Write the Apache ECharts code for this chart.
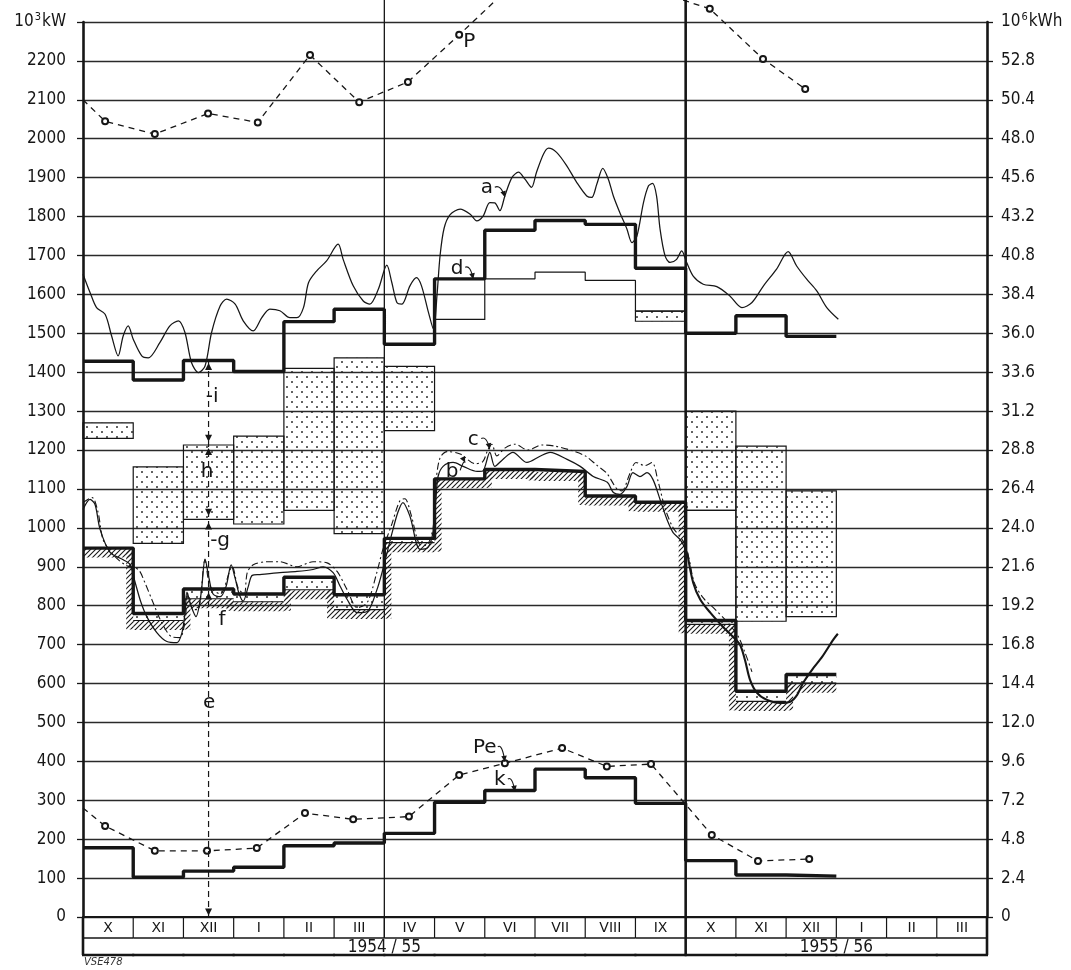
<!DOCTYPE html>
<html><head><meta charset="utf-8">
<script src="https://cdn.jsdelivr.net/npm/echarts@6/dist/echarts.min.js"></script>
<style>html,body{margin:0;padding:0;background:#fff}#c{width:1071px;height:970px}</style>
</head><body><div id="c"></div>
<script>
// ---------- DATA ----------
const monthLabels = ['X','XI','XII','I','II','III','IV','V','VI','VII','VIII','IX','X','XI','XII','I','II','III'];
const seasonLabels = ['1954 / 55','1955 / 56'];
const seasonSpans = [[0,12],[12,18]];
const dividerMonths = [6,12];
// thick step lines (monthly values, 10^3 kW)
const loadD = [1428,1380,1430,1402,1530,1562,1472,1640,1765,1790,1780,1667,1500,1545,1492];
const lineE = [948,780,843,830,873,828,973,1126,1150,1145,1082,1066,762,580,623];
const lineELow = [948,762,818,810,841,790,962,1126,1150,1145,1082,1066,752,554,601];
const lineK = [178,102,118,128,183,190,215,295,325,380,358,292,145,108,105];
const summerStart = 8;
const summerTop = [1640,1657,1636,1557];
// bands: [month, low, high, dotted]
const bandsH = [[0,1230,1270,1],[1,960,1157,1],[2,1022,1213,1],[3,1010,1236,1],[4,1045,1410,1],[5,985,1437,1],[6,1250,1415,1],[7,1536,1640,0],[11,1531,1557,1],[12,1045,1300,1],[12,762,1045,0],[13,760,1210,1],[14,772,1095,1]];
// P and Pe (month position, value)
const pX = [0,0.44,1.43,2.49,3.48,4.52,5.50,6.47,7.49,8.5,9.5,10.5,11.5,12.48,13.54,14.38];
const pVal = [2100,2045,2012,2065,2042,2215,2094,2146,2267,2390,2430,2420,2375,2334,2205,2128];
const peX = [0,0.44,1.43,2.47,3.46,4.42,5.38,6.49,7.49,8.40,9.54,10.43,11.31,12.52,13.44,14.46];
const peVal = [280,234,170,170,177,267,251,258,365,395,434,387,393,211,144,149];
// curve a
const aCurve = [[0.00,1652],[0.14,1605],[0.27,1566],[0.44,1549],[0.57,1493],[0.70,1442],[0.80,1493],[0.90,1519],[1.00,1485],[1.17,1442],[1.30,1437],[1.53,1476],[1.73,1519],[1.90,1532],[2.03,1502],[2.16,1425],[2.30,1399],[2.43,1416],[2.56,1502],[2.73,1570],[2.86,1588],[3.03,1575],[3.19,1532],[3.39,1506],[3.56,1540],[3.72,1562],[3.92,1558],[4.12,1540],[4.26,1540],[4.39,1566],[4.49,1630],[4.65,1660],[4.85,1686],[5.08,1729],[5.18,1690],[5.38,1622],[5.58,1583],[5.71,1575],[5.88,1613],[6.05,1675],[6.15,1630],[6.25,1579],[6.35,1575],[6.51,1622],[6.64,1643],[6.74,1622],[6.88,1553],[6.98,1510],[7.05,1600],[7.11,1700],[7.19,1770],[7.31,1805],[7.51,1819],[7.71,1806],[7.84,1789],[7.97,1802],[8.10,1836],[8.20,1835],[8.30,1815],[8.40,1853],[8.54,1900],[8.67,1914],[8.80,1896],[8.93,1875],[9.03,1914],[9.17,1961],[9.27,1976],[9.43,1965],[9.63,1931],[9.83,1888],[10.03,1853],[10.13,1849],[10.23,1883],[10.35,1924],[10.46,1896],[10.56,1853],[10.69,1810],[10.83,1768],[10.93,1733],[11.03,1750],[11.16,1836],[11.26,1879],[11.34,1885],[11.42,1853],[11.49,1768],[11.59,1699],[11.69,1682],[11.82,1690],[11.92,1712],[12.02,1682],[12.15,1647],[12.35,1626],[12.62,1620],[12.88,1596],[13.12,1566],[13.32,1579],[13.55,1622],[13.81,1665],[14.04,1710],[14.21,1673],[14.41,1639],[14.61,1609],[14.81,1566],[15.04,1536]];
// curve b (solid) first season
const bCurve1 = [[0,1047],[0.14,1073],[0.24,1060],[0.34,996],[0.54,937],[0.80,918],[0.94,905],[1.04,859],[1.15,810],[1.27,772],[1.47,731],[1.67,708],[1.87,705],[1.97,730],[2.03,780],[2.07,835],[2.15,800],[2.25,772],[2.35,830],[2.43,920],[2.51,870],[2.59,830],[2.73,823],[2.85,850],[2.95,905],[3.03,870],[3.11,830],[3.19,812],[3.29,849],[3.37,878],[3.52,880],[3.92,885],[4.26,888],[4.58,893],[4.78,900],[4.98,885],[5.12,850],[5.26,816],[5.46,782],[5.66,785],[5.85,840],[5.97,893],[6.15,985],[6.27,1040],[6.37,1065],[6.51,1030],[6.71,945],[6.87,950],[6.97,990],[7.03,1080],[7.07,1132],[7.17,1158],[7.37,1168],[7.57,1158],[7.85,1145],[7.96,1146],[8.10,1194],[8.20,1158],[8.36,1176],[8.56,1194],[8.84,1168],[9.10,1184],[9.30,1194],[9.64,1176],[9.90,1158],[10.16,1132],[10.44,1117],[10.56,1091],[10.69,1086],[10.83,1106],[10.95,1142],[11.09,1132],[11.23,1142],[11.35,1124],[11.49,1073],[11.63,1021],[11.75,988],[11.89,970],[12.03,937]];
// curve b second season (heavier)
const bCurve2 = [[12.03,937],[12.15,859],[12.29,816],[12.49,782],[12.74,746],[12.94,720],[13.08,700],[13.18,661],[13.28,610],[13.42,576],[13.62,558],[13.88,550],[14.08,553],[14.22,571],[14.34,602],[14.52,636],[14.72,669],[14.94,713],[15.03,728]];
// curve c (dash-dot)
const cCurve = [[0,1065],[0.18,1078],[0.30,1040],[0.40,970],[0.60,931],[0.84,905],[1.10,893],[1.23,860],[1.37,816],[1.57,756],[1.77,720],[1.93,718],[2.03,759],[2.09,830],[2.19,790],[2.29,790],[2.43,918],[2.53,850],[2.73,830],[2.97,900],[3.09,845],[3.21,830],[3.27,885],[3.39,905],[3.66,913],[3.92,913],[4.26,900],[4.58,913],[4.86,910],[5.06,888],[5.26,841],[5.46,795],[5.66,808],[5.85,885],[5.97,944],[6.15,1010],[6.31,1070],[6.41,1075],[6.53,1035],[6.69,960],[6.83,955],[6.97,1000],[7.03,1120],[7.11,1180],[7.25,1196],[7.51,1190],[7.81,1165],[7.96,1170],[8.06,1200],[8.14,1215],[8.24,1185],[8.40,1205],[8.60,1215],[8.86,1200],[9.14,1213],[9.40,1210],[9.70,1200],[10.00,1185],[10.24,1160],[10.43,1140],[10.63,1100],[10.73,1095],[10.89,1140],[11.01,1168],[11.19,1160],[11.33,1168],[11.45,1120],[11.59,1050],[11.75,1000],[11.93,970],[12.05,930],[12.17,860],[12.35,820],[12.59,790],[12.85,755],[13.05,720],[13.18,680],[13.32,630]];
// annotations
const noteText = ['P','a','d','c','b','Pe','k','-i','h','-g','f','e'];
const noteAt = [[7.69,2249],[8.04,1873],[7.45,1667],[7.77,1227],[7.35,1145],[8.0,435],[8.3,352],[2.57,1338],[2.47,1145],[2.73,967],[2.77,764],[2.51,551]];
const noteTarget = [null,[8.40,1850],[7.77,1639],[8.10,1202],[7.61,1168],[8.40,399],[8.60,322],null,null,null,null,null];
const markerX = 2.5, markerTop = 1432;
const markerArrows = [[1424,1],[1221,-1],[1205,1],[1031,-1],[1014,1],[834,1],[4,-1]];

// ---------- STYLE HELPERS ----------
const ink = '#161616';
const fontNum = '"DejaVu Sans Condensed","DejaVu Sans",sans-serif';
function makePattern(w, h, draw){ const c=document.createElement('canvas'); c.width=w; c.height=h; draw(c.getContext('2d')); return c; }
const dotCanvas = makePattern(10,10,g=>{ g.fillStyle='#222'; [[2,2],[7,7]].forEach(p=>{g.beginPath(); g.arc(p[0],p[1],0.95,0,7); g.fill();}); });
const hatchCanvas = makePattern(5,5,g=>{ g.strokeStyle='#1a1a1a'; g.lineWidth=1.1; g.beginPath(); g.moveTo(-1,6); g.lineTo(6,-1); g.moveTo(-1,1); g.lineTo(1,-1); g.moveTo(4,6); g.lineTo(6,4); g.stroke(); });
const dotFill = {image: dotCanvas, repeat: 'repeat'};
const hatchFill = {image: hatchCanvas, repeat: 'repeat'};
function steps(vals, start){ const out=[]; vals.forEach((v,i)=>{ out.push([start+i,v]); out.push([start+i+1,v]); }); return out; }
const rowH = 21, yearH = 17, hatchH = 9, hatchW = 7;

const lineBase = {type:'line', symbol:'none', showSymbol:false, silent:true, animation:false};
const curveBase = {...lineBase, smooth:0.3};

const option = {
  animation:false,
  backgroundColor:'#fff',
  grid:{left:83, right:84, top:22, bottom:53, containLabel:false, outerBoundsMode:'none'},
  xAxis:{type:'value', min:0, max:18, interval:1,
    axisLine:{show:true, onZero:false, lineStyle:{color:ink, width:2.2}},
    axisTick:{show:false}, axisLabel:{show:false}, splitLine:{show:false}},
  yAxis:[
    {type:'value', min:0, max:2300, interval:100, position:'left',
     axisLine:{show:true, lineStyle:{color:ink, width:2.6}},
     axisTick:{show:true, length:6, lineStyle:{color:ink, width:1.3}},
     splitLine:{show:true, lineStyle:{color:'#2a2a2a', width:1.3}},
     axisLabel:{margin:17, color:ink, fontFamily:fontNum, fontSize:17,
       formatter:v=> v>=2300 ? '{a|10}{s|3}{a|kW}' : String(v),
       rich:{a:{fontFamily:fontNum, fontSize:17, color:ink}, s:{fontFamily:fontNum, fontSize:11, color:ink, padding:[0,1,10,1]}}}},
    {type:'value', min:0, max:55.2, interval:2.4, position:'right',
     axisLine:{show:true, lineStyle:{color:ink, width:2.6}},
     axisTick:{show:true, length:6, lineStyle:{color:ink, width:1.3}},
     splitLine:{show:false},
     axisLabel:{margin:14, color:ink, fontFamily:fontNum, fontSize:17,
       formatter:v=> v>55 ? '{a|10}{s|6}{a|kWh}' : (v===0 ? '0' : v.toFixed(1)),
       rich:{a:{fontFamily:fontNum, fontSize:17, color:ink}, s:{fontFamily:fontNum, fontSize:11, color:ink, padding:[0,1,10,1]}}}}
  ],
  graphic:[{type:'text', left:84, top:957, style:{text:'VSE478', font:'italic 10px "DejaVu Sans"', fill:'#333'}}],
  series:[
    // upper dotted bands / outline boxes
    {type:'custom', silent:true, z:2, data:bandsH.map(b=>[b[0],b[1],b[2]]), encode:{x:0,y:[1,2]},
     renderItem:(params, api)=>{
       const b = bandsH[params.dataIndex];
       const p1 = api.coord([b[0], b[2]]), p2 = api.coord([b[0]+1, b[1]]);
       return {type:'rect', shape:{x:p1[0], y:p1[1], width:p2[0]-p1[0], height:p2[1]-p1[1]},
               style:{fill: b[3] ? dotFill : 'none', stroke:ink, lineWidth:1.2}};
     }},
    // dotted band right under line e
    {type:'custom', silent:true, z:2, data:lineE.map((v,i)=>[i,lineELow[i],v]), encode:{x:0,y:[1,2]},
     renderItem:(params, api)=>{
       const i = params.dataIndex;
       if (lineELow[i] >= lineE[i]) return {type:'group', children:[]};
       const p1 = api.coord([i, lineE[i]]), p2 = api.coord([i+1, lineELow[i]]);
       return {type:'group', children:[
         {type:'rect', shape:{x:p1[0], y:p1[1], width:p2[0]-p1[0], height:p2[1]-p1[1]}, style:{fill:dotFill}},
         {type:'line', shape:{x1:p1[0], y1:p2[1], x2:p2[0], y2:p2[1]}, style:{stroke:ink, lineWidth:1.1}}
       ]};
     }},
    // hatching under line e
    {type:'custom', silent:true, z:2, data:lineELow.map((v,i)=>[i,v]), encode:{x:0,y:1},
     renderItem:(params, api)=>{
       const i = params.dataIndex, lo = lineELow[i];
       const a = api.coord([i, lo]), b = api.coord([i+1, lo]);
       const ch = [{type:'rect', shape:{x:a[0], y:a[1]+0.5, width:b[0]-a[0], height:hatchH}, style:{fill:hatchFill}}];
       if (i+1 < lineELow.length && lineELow[i+1] !== lo){
         const nx = lineELow[i+1];
         const yHi = api.coord([i, Math.max(lo,nx)])[1], yLo = api.coord([i, Math.min(lo,nx)])[1] + hatchH;
         const x = lo > nx ? b[0]-hatchW : b[0];
         ch.push({type:'rect', shape:{x:x, y:yHi, width:hatchW, height:yLo-yHi}, style:{fill:hatchFill}});
       }
       return {type:'group', children:ch};
     }},
    // thin summer step line
    {...lineBase, name:'summer', z:3, data:steps(summerTop, summerStart), lineStyle:{color:ink, width:1.2}},
    // curves
    {...curveBase, name:'a', z:4, data:aCurve, lineStyle:{color:ink, width:1.25}},
    {...curveBase, name:'c', z:4, data:cCurve, lineStyle:{color:ink, width:1.1, type:[7,3,2,3]}},
    {...curveBase, name:'b1', z:4, data:bCurve1, lineStyle:{color:ink, width:1.25}},
    {...curveBase, name:'b2', z:4, data:bCurve2, lineStyle:{color:ink, width:2.1}},
    // thick step lines
    {...lineBase, name:'d', z:5, data:steps(loadD,0), lineStyle:{color:ink, width:3.4}},
    {...lineBase, name:'e', z:5, data:steps(lineE,0), lineStyle:{color:ink, width:3.4}},
    {...lineBase, name:'k', z:5, data:steps(lineK,0), lineStyle:{color:ink, width:3.4}},
    // P and Pe
    {type:'line', name:'P', z:6, silent:true, clip:false, symbol:'emptyCircle', showSymbol:true, symbolSize:6,
     data:pX.map((x,i)=>({value:[x,pVal[i]], symbolSize: i===0 ? 0 : 6})),
     itemStyle:{color:ink, borderWidth:1.2}, lineStyle:{color:ink, width:1.3, type:[6,5]}},
    {type:'line', name:'Pe', z:6, silent:true, clip:false, symbol:'emptyCircle', showSymbol:true, symbolSize:6,
     data:peX.map((x,i)=>({value:[x,peVal[i]], symbolSize: i===0 ? 0 : 6})),
     itemStyle:{color:ink, borderWidth:1.2}, lineStyle:{color:ink, width:1.3, type:[6,5]}},
    // season dividers
    {type:'custom', silent:true, z:7, data:dividerMonths.map(m=>[m,0]), encode:{x:0,y:1},
     renderItem:(params, api)=>{
       const m = dividerMonths[params.dataIndex], thick = params.dataIndex === dividerMonths.length-1;
       const t = api.coord([m, 2500]), b = api.coord([m, 0]);
       return {type:'line', shape:{x1:t[0], y1:t[1], x2:b[0], y2:b[1] + (thick ? rowH+yearH : rowH)},
               style:{stroke:ink, lineWidth: thick ? 2.6 : 1.3}};
     }},
    // component marker line
    {type:'custom', silent:true, z:7, data:[[markerX,0]], encode:{x:0,y:1},
     renderItem:(params, api)=>{
       const b = api.coord([markerX,0]), t = api.coord([markerX, markerTop]);
       const ch = [{type:'line', shape:{x1:b[0], y1:b[1], x2:t[0], y2:t[1]}, style:{stroke:ink, lineWidth:1.2, lineDash:[6,4]}}];
       markerArrows.forEach(ar=>{
         const p = api.coord([markerX, ar[0]]); const d = ar[1];
         ch.push({type:'polygon', shape:{points:[[p[0],p[1]],[p[0]-3.5,p[1]+7*d],[p[0]+3.5,p[1]+7*d]]}, style:{fill:ink}});
       });
       return {type:'group', children:ch};
     }},
    // annotations
    {type:'custom', silent:true, z:8, data:noteAt, encode:{x:0,y:1},
     renderItem:(params, api)=>{
       const i = params.dataIndex, p = api.coord(noteAt[i]);
       const ch = [{type:'text', style:{text:noteText[i], x:p[0], y:p[1], align:'center', verticalAlign:'middle', font:'20px "DejaVu Sans"', fill:ink}}];
       const t = noteTarget[i];
       if (t){
         const q = api.coord(t);
         const sx = p[0] + (noteText[i].length>1 ? 13 : 8), sy = p[1] - 1;
         const cx = (sx+q[0])/2 + 1, cy = Math.min(sy,q[1]) - 3;
         ch.push({type:'bezierCurve', shape:{x1:sx,y1:sy,x2:q[0],y2:q[1],cpx1:cx,cpy1:cy}, style:{stroke:ink, lineWidth:1.1, fill:'none'}});
         const ang = Math.atan2(q[1]-cy, q[0]-cx), L=6, W=2.8;
         const bx = q[0]-L*Math.cos(ang), by = q[1]-L*Math.sin(ang);
         ch.push({type:'polygon', shape:{points:[[q[0],q[1]],[bx-W*Math.sin(ang), by+W*Math.cos(ang)],[bx+W*Math.sin(ang), by-W*Math.cos(ang)]]}, style:{fill:ink}});
       }
       return {type:'group', children:ch};
     }},
    // month table
    {type:'custom', silent:true, z:9, data:monthLabels.map((m,i)=>[i,0]), encode:{x:0,y:1},
     renderItem:(params, api)=>{
       const i = params.dataIndex, last = monthLabels.length-1;
       const a = api.coord([i,0]), b = api.coord([i+1,0]), y0 = a[1];
       const ch = [
         {type:'line', shape:{x1:a[0], y1:y0+rowH, x2:b[0], y2:y0+rowH}, style:{stroke:ink, lineWidth:1.3}},
         {type:'line', shape:{x1:a[0]-1, y1:y0+rowH+yearH, x2:b[0]+1, y2:y0+rowH+yearH}, style:{stroke:ink, lineWidth:2.6}},
         {type:'text', style:{text:monthLabels[i], x:(a[0]+b[0])/2, y:y0+rowH/2+1, align:'center', verticalAlign:'middle', font:'14px "DejaVu Sans"', fill:ink}}
       ];
       if (i < last) ch.push({type:'line', shape:{x1:b[0], y1:y0, x2:b[0], y2:y0+rowH}, style:{stroke:ink, lineWidth:1.2}});
       if (i === 0) ch.push({type:'line', shape:{x1:a[0], y1:y0, x2:a[0], y2:y0+rowH+yearH}, style:{stroke:ink, lineWidth:2.6}});
       if (i === last) ch.push({type:'line', shape:{x1:b[0], y1:y0, x2:b[0], y2:y0+rowH+yearH}, style:{stroke:ink, lineWidth:2.6}});
       return {type:'group', children:ch};
     }},
    {type:'custom', silent:true, z:9, data:seasonSpans.map(s=>[s[0],0]), encode:{x:0,y:1},
     renderItem:(params, api)=>{
       const s = seasonSpans[params.dataIndex];
       const c = api.coord([(s[0]+s[1])/2, 0]);
       return {type:'text', style:{text:seasonLabels[params.dataIndex], x:c[0], y:c[1]+rowH+yearH/2+1, align:'center', verticalAlign:'middle', font:'17px '+fontNum, fill:ink}};
     }}
  ]
};
const chart = echarts.init(document.getElementById('c'));
chart.setOption(option);
</script></body></html>
